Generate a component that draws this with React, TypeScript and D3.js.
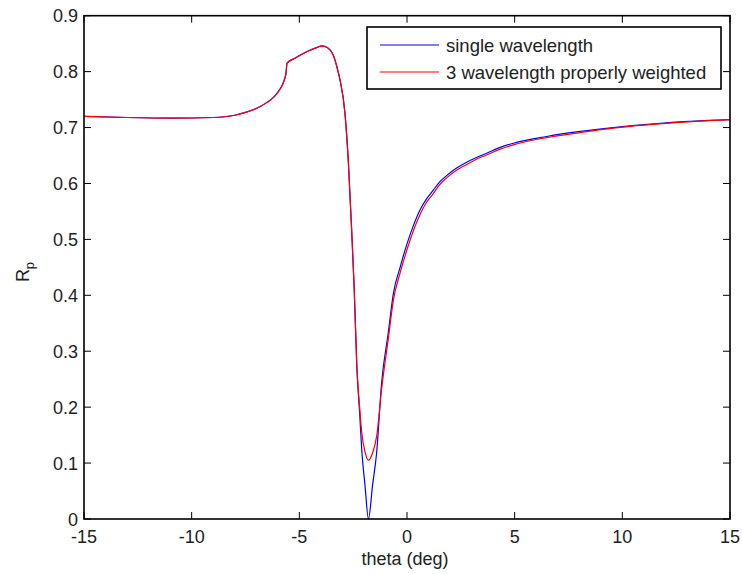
import React from "react";
import * as d3 from "d3";

const thetaDeg = [-15, -13, -11, -9, -8, -7.5, -7, -6.5, -6.2, -6.0, -5.8, -5.7, -5.62, -5.57, -5.2, -4.64, -4.2, -3.94, -3.7, -3.43, -3.2, -3.11, -2.88, -2.72, -2.57, -2.45, -2.33, -2.2, -2.1, -1.95, -1.79, -1.6, -1.4, -1.18, -0.87, -0.63, -0.32, 0, 0.3, 0.61, 0.9, 1.22, 1.5, 1.84, 2.2, 2.77, 3.2, 3.7, 4.3, 4.94, 6.49, 8.04, 9.58, 11.9, 15];
const singleWavelength = [0.72, 0.718, 0.717, 0.718, 0.722, 0.727, 0.734, 0.745, 0.754, 0.763, 0.775, 0.785, 0.797, 0.815, 0.824, 0.836, 0.843, 0.846, 0.843, 0.83, 0.8, 0.785, 0.726, 0.637, 0.517, 0.41, 0.272, 0.19, 0.123, 0.06, 0.0, 0.06, 0.123, 0.243, 0.333, 0.404, 0.45, 0.492, 0.525, 0.553, 0.572, 0.588, 0.602, 0.614, 0.625, 0.638, 0.646, 0.654, 0.664, 0.672, 0.684, 0.693, 0.7, 0.708, 0.714];
const threeWavelength = [0.72, 0.718, 0.717, 0.718, 0.722, 0.727, 0.734, 0.745, 0.754, 0.763, 0.775, 0.785, 0.797, 0.815, 0.824, 0.836, 0.843, 0.846, 0.843, 0.83, 0.8, 0.785, 0.724, 0.635, 0.515, 0.41, 0.275, 0.2, 0.154, 0.12, 0.105, 0.118, 0.15, 0.232, 0.322, 0.392, 0.44, 0.482, 0.516, 0.545, 0.566, 0.582, 0.597, 0.61, 0.621, 0.634, 0.643, 0.651, 0.661, 0.669, 0.682, 0.691, 0.699, 0.707, 0.714];
const xTicks = [-15, -10, -5, 0, 5, 10, 15];
const yTicks = [0, 0.1, 0.2, 0.3, 0.4, 0.5, 0.6, 0.7, 0.8, 0.9];
const seriesNames = ["single wavelength", "3 wavelength properly weighted"];
const seriesColors = ["#0000ff", "#ff0000"];

export default function App() {
  const W = 742, H = 574;
  const L = 84, R = 730, T = 15.7, B = 519;
  const x = d3.scaleLinear().domain([-15, 15]).range([L, R]);
  const y = d3.scaleLinear().domain([0, 0.9]).range([B, T]);
  const font = "'Liberation Sans', Arial, sans-serif";
  const line = (vals: number[]) =>
    d3.line<number>().x((_, i) => x(thetaDeg[i])).y((d) => y(d)).curve(d3.curveMonotoneX)(vals) || "";
  const tl = 7;
  const fs = 18;
  return (
    <svg width={W} height={H} style={{ position: "absolute", left: 0, top: 0, background: "#fff" }} fontFamily={font}>
      <rect x={0} y={0} width={W} height={H} fill="#fff" />
      <path d={line(singleWavelength)} fill="none" stroke={seriesColors[0]} strokeWidth={1.2} />
      <path d={line(threeWavelength)} fill="none" stroke={seriesColors[1]} strokeWidth={1.2} />
      <rect x={L} y={T} width={R - L} height={B - T} fill="none" stroke="#000" strokeWidth={1.6} />
      {xTicks.map((t) => (
        <g key={"x" + t}>
          <line x1={x(t)} x2={x(t)} y1={B} y2={B - tl} stroke="#000" strokeWidth={1} />
          <line x1={x(t)} x2={x(t)} y1={T} y2={T + tl} stroke="#000" strokeWidth={1} />
          <text x={x(t)} y={543} textAnchor="middle" fontSize={fs} fill="#222">{t}</text>
        </g>
      ))}
      {yTicks.map((t) => (
        <g key={"y" + t}>
          <line x1={L} x2={L + tl} y1={y(t)} y2={y(t)} stroke="#000" strokeWidth={1} />
          <line x1={R} x2={R - tl} y1={y(t)} y2={y(t)} stroke="#000" strokeWidth={1} />
          <text x={78} y={y(t) + 6.5} textAnchor="end" fontSize={fs} fill="#222">{t === 0 ? "0" : t.toFixed(1)}</text>
        </g>
      ))}
      <text x={405} y={565} textAnchor="middle" fontSize={fs} fill="#222">theta (deg)</text>
      <text transform="translate(29,272) rotate(-90)" textAnchor="middle" fontSize={fs} fill="#222">
        R<tspan fontSize={13} dy={5}>p</tspan>
      </text>
      <rect x={367} y={27} width={354} height={62} fill="#fff" stroke="#000" strokeWidth={1.6} />
      {seriesNames.map((n, i) => (
        <g key={n}>
          <line x1={380} x2={439} y1={45 + i * 27} y2={45 + i * 27} stroke={seriesColors[i]} strokeWidth={1.2} />
          <text x={446} y={45 + i * 27 + 6.5} fontSize={18.5} fill="#222">{n}</text>
        </g>
      ))}
    </svg>
  );
}
